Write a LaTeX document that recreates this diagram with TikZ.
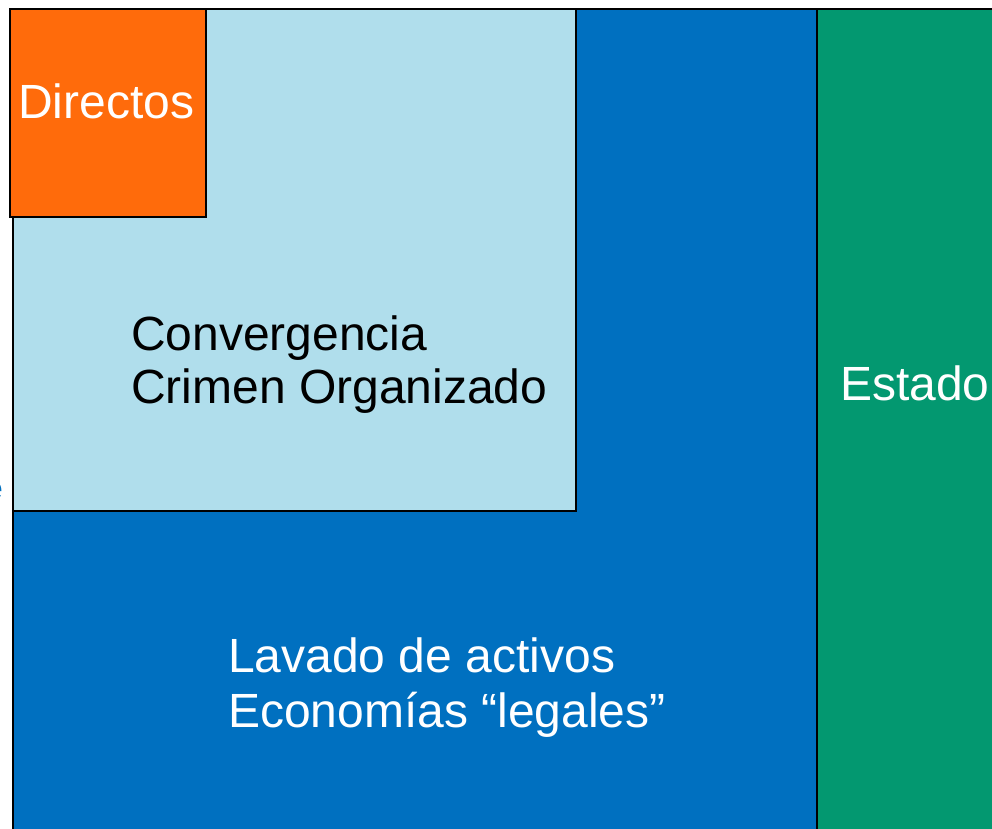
\documentclass[tikz,border=0pt]{standalone}
\usepackage{fontspec}
\setmainfont{Liberation Sans}
\definecolor{cOrange}{HTML}{FF6B0B}
\definecolor{cLight}{HTML}{B0DEEC}
\definecolor{cBlue}{HTML}{0070C0}
\definecolor{cGreen}{HTML}{039870}
\begin{document}
\begin{tikzpicture}[x=1pt,y=-1pt,
  region/.style={draw=black,line width=1.6pt},
  lbl/.style={anchor=base west,inner sep=0pt,font=\fontsize{48}{53}\selectfont}]
\useasboundingbox (0,0) rectangle (992,828);
\fill[white] (0,0) rectangle (992,828);
\draw[region,fill=cBlue] (13,9) rectangle (817,840);
\draw[region,fill=cGreen] (817,9) rectangle (1000,840);
\draw[region,fill=cLight] (13,9) rectangle (576,511);
\draw[region,fill=cOrange] (10,9) rectangle (206,217);
\node[lbl,text=cBlue,anchor=base east,font=\fontsize{32}{36}\selectfont] (cut) at (3,499) {e};
\node[lbl,text=white] (directos) at (18,118) {Directos};
\node[lbl,text=black] (conv) at (131,350) {Convergencia};
\node[lbl,text=black] (crimen) at (131,403) {Crimen Organizado};
\node[lbl,text=white] (estado) at (840,400) {Estado};
\node[lbl,text=white] (lavado) at (228,672) {Lavado de activos};
\node[lbl,text=white] (econ) at (228,727) {Economías “legales”};
\end{tikzpicture}
\end{document}
